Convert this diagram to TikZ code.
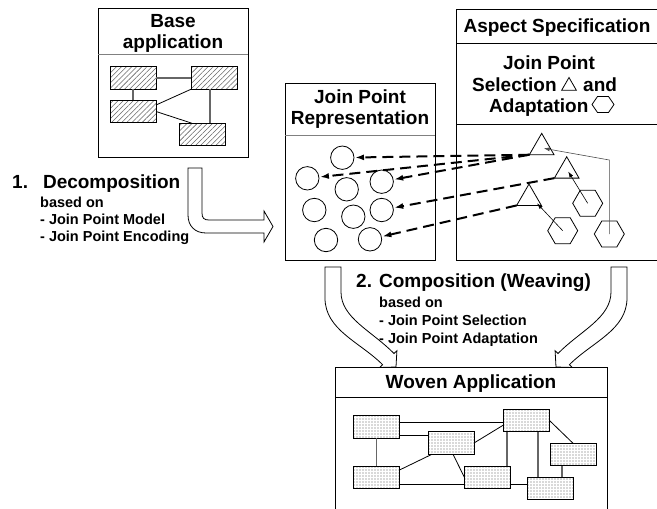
\documentclass[tikz,border=0pt]{standalone}
\usepackage{fontspec}
\setmainfont{Liberation Sans}
\usetikzlibrary{shapes.geometric,arrows.meta,patterns.meta,calc}
\begin{document}
\begin{tikzpicture}[x=1pt,y=-1pt,
  panel/.style={draw, line width=1pt, inner sep=0pt, outer sep=0pt, anchor=north west},
  divg/.style={draw=gray, line width=1pt},
  divb/.style={draw=black, line width=1pt},
  ttl/.style={font=\fontsize{19}{21}\selectfont\bfseries, inner sep=0pt, align=center},
  sub/.style={font=\fontsize{14.5}{17}\selectfont\bfseries, inner sep=0pt, align=left, anchor=north west},
  hbox/.style={draw, line width=0.8pt, minimum width=46pt, minimum height=22.5pt, inner sep=0pt, outer sep=0pt,
    pattern={Lines[angle=45,distance=3.6pt,line width=0.55pt]}, pattern color=gray!80!black},
  wbox/.style={draw, line width=0.8pt, minimum width=46pt, minimum height=22.5pt, inner sep=0pt, outer sep=0pt,
    pattern={Dots[radius=0.55pt,distance=3pt]}, pattern color=gray!70!black},
  jp/.style={circle, draw, line width=0.8pt, minimum size=23.4pt, inner sep=0pt, outer sep=0pt},
  tri/.style={regular polygon, regular polygon sides=3, draw, line width=0.8pt, minimum size=28.5pt, inner sep=0pt, outer sep=0pt},
  hex/.style={regular polygon, regular polygon sides=6, draw, line width=0.8pt, minimum size=30pt, inner sep=0pt, outer sep=0pt},
  dasharrow/.style={line width=2pt, dash pattern=on 11pt off 6pt, -{Latex[length=9pt,width=6pt]}, shorten >=1pt},
  thinarrow/.style={line width=0.6pt, -{Latex[length=6pt,width=4pt]}},
  conn/.style={line width=0.8pt},
  gconn/.style={line width=1.1pt, draw=gray!80!black},
  bigarrow/.style={line width=0.8pt, fill=white, line join=miter}
]
\useasboundingbox (0,0) rectangle (657,509);
\clip (0,0) rectangle (657,509);

% ---------- Base application ----------
\node[panel, minimum width=150pt, minimum height=149pt] (base) at (98,8) {};
\draw[divg] ($(base.north west)+(0,46)$) -- ($(base.north east)+(0,46)$);
\node[ttl] (basettl) at (173,33.5) {Base\\application};
\node[hbox] (r1) at (133,78) {};
\node[hbox] (r2) at (214,78) {};
\node[hbox] (r3) at (133,111.5) {};
\node[hbox] (r4) at (202,134.5) {};
\draw[gconn] (r1.east) -- (r2.west);
\draw[gconn] (r1.south) -- (r3.north);
\draw[conn] ($(r3.east)+(0,-6.5)$) -- (r2.south west);
\draw[conn] (r3.east) -- ($(r4.north west)+(13,0)$);
\draw[gconn] ($(r2.south)+(-4,0)$) -- ($(r4.north)+(8,0)$);

% ---------- Decomposition ----------
\draw[bigarrow] (188,168) -- (202,168) -- (202,213) .. controls (202,218) and (204,220) .. (209,220)
  -- (264,220) -- (264,211) -- (273,226.5) -- (264,242) -- (264,233) -- (206,233)
  .. controls (195,233) and (188,226) .. (188,215) -- cycle;
\node[ttl, anchor=base west] (dec) at (12,188.5) {1.\hspace{15pt}Decomposition};
\node[sub] (decsub) at (40,196.5) {based on\\- Join Point Model\\- Join Point Encoding};

% ---------- Join Point Representation ----------
\node[panel, minimum width=150pt, minimum height=177pt] (jpr) at (285,83) {};
\draw[divg] ($(jpr.north west)+(0,52)$) -- ($(jpr.north east)+(0,52)$);
\node[ttl] (jprttl) at (360,109.5) {Join Point\\Representation};
\node[jp] (c1) at (342.3,157.7) {};
\node[jp] (c2) at (307.3,178.3) {};
\node[jp] (c3) at (346.7,189.3) {};
\node[jp] (c4) at (381.7,181.7) {};
\node[jp] (c5) at (314.3,210) {};
\node[jp] (c6) at (353.3,216.7) {};
\node[jp] (c7) at (381.7,210) {};
\node[jp] (c8) at (326,240) {};
\node[jp] (c9) at (370,239.3) {};

% ---------- Aspect Specification ----------
\node[panel, minimum width=210pt, minimum height=251pt] (asp) at (456,9) {};
\draw[divb] ($(asp.north west)+(0,34)$) -- ($(asp.north east)+(0,34)$);
\draw[divb] ($(asp.north west)+(0,115)$) -- ($(asp.north east)+(0,115)$);
\node[ttl, anchor=base] (aspttl) at (557,32.5) {Aspect Specification};
\node[ttl, anchor=base] (aspjp) at (549,69) {Join Point};
\node[ttl, anchor=base west] (aspsel) at (472,91) {Selection};
\node[regular polygon, regular polygon sides=3, draw, line width=0.8pt, minimum size=17pt, inner sep=0pt] (symtri) at (569,86) {};
\node[ttl, anchor=base west] (aspand) at (583,91) {and};
\node[ttl, anchor=base west] (aspada) at (489,112) {Adaptation};
\coordinate (symhex) at (603,104.5);
\draw[line width=0.8pt] ($(symhex)+(-11,0)$) -- ($(symhex)+(-5.5,-8)$) -- ($(symhex)+(5.5,-8)$)
  -- ($(symhex)+(11,0)$) -- ($(symhex)+(5.5,8)$) -- ($(symhex)+(-5.5,8)$) -- cycle;

\node[tri] (t1) at (541.7,147.6) {};
\node[tri] (t2) at (566.7,171) {};
\node[tri] (t3) at (529,198.3) {};
\node[hex] (h1) at (587.7,203.3) {};
\node[hex] (h2) at (562.7,230.7) {};
\node[hex] (h3) at (609.3,234) {};
\coordinate (bend) at (609.3,160);
\draw[thinarrow] (h1.center) -- ($(t2.center)+(1.5,0.5)$);
\draw[thinarrow] (h2.center) -- ($(t3.center)+(8,5)$);
\draw[thinarrow, draw=gray!60!black] (h3.center) -- (bend) -- ($(t1.center)+(2,0.7)$);

\draw[dasharrow] (t1.corner 2) -- (c1);
\draw[dasharrow] (t1.corner 2) -- (c2);
\draw[dasharrow] (t1.corner 2) -- (c4);
\draw[dasharrow] (t2.corner 2) -- (c7);
\draw[dasharrow] (t3.corner 2) -- (c9);

% ---------- Composition ----------
\draw[bigarrow] (325,267) -- (341,267) -- (341,292) .. controls (341,318) and (372,331) .. (394,353.5)
  -- (396.9,350.7) -- (396,367) -- (379.7,367.5) -- (382.6,364.7)
  .. controls (360,342) and (325,330) .. (325,298) -- cycle;
\draw[bigarrow] (627,267) -- (611,267) -- (611,292) .. controls (611,318) and (580,331) .. (558,353.5)
  -- (555.1,350.7) -- (556,367) -- (572.3,367.5) -- (569.4,364.7)
  .. controls (592,342) and (627,330) .. (627,298) -- cycle;
\node[ttl, anchor=base west] (comp) at (356,287) {2. Composition (Weaving)};
\node[sub, font=\fontsize{14.5}{18}\selectfont\bfseries] (compsub) at (379,296.5) {based on\\- Join Point Selection\\- Join Point Adaptation};

% ---------- Woven Application ----------
\node[panel, minimum width=272pt, minimum height=160pt] (woven) at (335,367) {};
\draw[divb] ($(woven.north west)+(0,30)$) -- ($(woven.north east)+(0,30)$);
\node[ttl, anchor=base] (wovttl) at (471,388.5) {Woven Application};
\node[wbox] (w1) at (376.5,427) {};
\node[wbox] (w2) at (451,443) {};
\node[wbox] (w3) at (526.5,420.5) {};
\node[wbox] (w4) at (573,454.5) {};
\node[wbox] (w5) at (376.5,477.5) {};
\node[wbox] (w6) at (487.5,477.5) {};
\node[wbox] (w7) at (550,488.5) {};
\draw[conn] ($(w1.east)+(0,-5)$) -- ($(w3.west)+(0,1.5)$);
\draw[conn] ($(w1.east)+(0,8)$) -- ($(w2.west)+(0,-8)$);
\draw[gconn] (w1.south) -- (w5.north);
\draw[conn] (w2.east) -- ($(w3.west)+(0,4.5)$);
\draw[conn] ($(w2.south west)+(4,0)$) -- ($(w5.east)+(0,-7.5)$);
\draw[conn] ($(w2.south)+(2,0)$) -- (w6.west);
\draw[conn] ($(w5.east)+(0,6.5)$) -- ($(w6.west)+(0,6.5)$);
\draw[gconn] ($(w3.south)+(-19.5,0)$) -- ($(w6.north)+(19.5,0)$);
\draw[gconn] ($(w3.south)+(11.5,0)$) -- ($(w7.north)+(-12,0)$);
\draw[conn] (w3.east) -- (w4.north);
\draw[gconn] ($(w4.south)+(-11,0)$) -- ($(w7.north)+(12,0)$);
\draw[conn] ($(w6.east)+(0,6.5)$) -- ($(w7.west)+(0,-4.5)$);
\end{tikzpicture}
\end{document}
